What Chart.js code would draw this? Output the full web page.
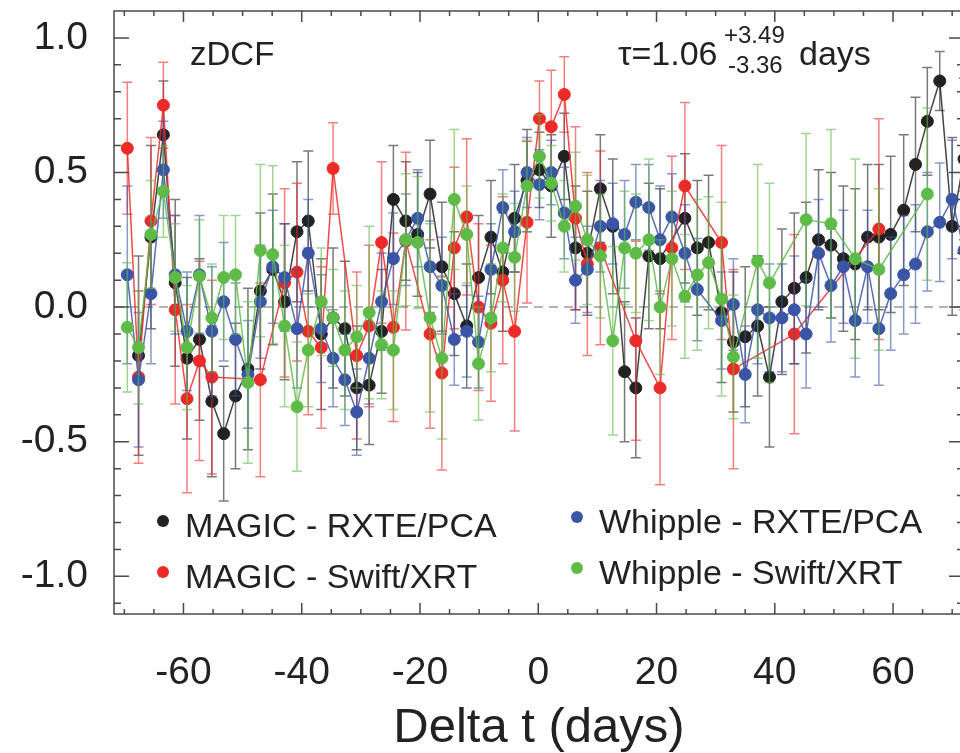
<!DOCTYPE html>
<html>
<head>
<meta charset="utf-8">
<script src="https://cdn.jsdelivr.net/npm/chart.js@4.4.1/dist/chart.umd.min.js"></script>
<style>
  html, body { margin: 0; padding: 0; background: #fff; overflow: hidden; }
  #wrap { width: 975px; height: 753px; }
</style>
</head>
<body>
<div id="wrap"><canvas id="myChart" width="975" height="753"></canvas></div>
<script>
// time lags (days)
var lags = [
  -69.5, -67.6, -65.5, -63.4, -61.4, -59.4, -57.3, -55.2, -53.2, -51.2,
  -49.1, -47.0, -44.9, -42.9, -40.8, -38.9, -36.7, -34.7, -32.7, -30.7,
  -28.6, -26.5, -24.5, -22.4, -20.4, -18.3, -16.3, -14.2, -12.1, -10.1,
  -8.0, -6.0, -4.0, -1.9, 0.2, 2.2, 4.4, 6.3, 8.3, 10.5,
  12.6, 14.6, 16.5, 18.7, 20.6, 22.6, 24.8, 26.9, 28.8, 31.0,
  33.0, 35.0, 37.1, 39.1, 41.2, 43.3, 45.3, 47.4, 49.5, 51.6,
  53.6, 55.7, 57.6, 59.6, 61.8, 63.8, 65.8, 67.9, 70.0, 72.0
];

// MAGIC - RXTE/PCA
var magicRxte = [
  null, -0.18, 0.26, 0.64, 0.09, -0.19, -0.12, -0.35, -0.47, -0.33,
  -0.23, 0.06, 0.14, 0.02, 0.28, 0.32, -0.10, -0.04, -0.08, -0.30,
  -0.29, -0.09, 0.40, 0.32, 0.27, 0.42, 0.15, 0.05, -0.07, 0.11,
  0.26, 0.13, 0.33, 0.47, 0.51, 0.45, 0.56, 0.22, 0.20, 0.44,
  0.30, -0.24, -0.30, 0.19, 0.18, null, 0.33, 0.22, 0.24, -0.02,
  -0.13, -0.11, -0.07, -0.26, 0.02, 0.07, 0.11, 0.25, 0.23, 0.18,
  0.16, 0.26, 0.26, 0.27, 0.36, 0.53, 0.69, 0.84, 0.30, 0.55
];
var magicRxteErr = [
  0, 0.37, 0.34, 0.20, 0.31, 0.30, 0.30, 0.28, 0.25, 0.27,
  0.30, 0.29, 0.28, 0.29, 0.26, 0.26, 0.28, 0.26, 0.25, 0.23,
  0.22, 0.23, 0.20, 0.22, 0.23, 0.20, 0.24, 0.23, 0.23, 0.23,
  0.21, 0.22, 0.20, 0.19, 0.14, 0.19, 0.16, 0.23, 0.23, 0.20,
  0.25, 0.26, 0.26, 0.27, 0.26, 0, 0.24, 0.25, 0.25, 0.26,
  0.26, 0.26, 0.26, 0.26, 0.27, 0.28, 0.28, 0.26, 0.27, 0.27,
  0.28, 0.27, 0.27, 0.29, 0.28, 0.25, 0.20, 0.11, 0.33, 0.30
];

// MAGIC - Swift/XRT
var magicSwift = [
  0.59, -0.26, 0.32, 0.75, -0.01, -0.34, -0.20, -0.26, null, null,
  null, -0.27, null, 0.09, 0.13, -0.09, -0.15, 0.515, null, -0.18,
  -0.07, 0.24, -0.075, 0.245, null, -0.10, -0.245, 0.22, 0.335, 0.0,
  -0.06, 0.10, -0.09, 0.315, 0.70, 0.67, 0.79, 0.33, 0.16, 0.22,
  null, null, -0.125, null, -0.30, 0.22, 0.45, null, null, 0.24,
  -0.23, null, null, null, null, -0.10, null, null, null, null,
  null, null, 0.29, null, null, null, null, null, null, null
];
var magicSwiftErr = [
  0.245, 0.32, 0.31, 0.16, 0.35, 0.35, 0.37, 0.36, 0, 0,
  0, 0.36, 0, 0.35, 0.33, 0.31, 0.30, 0.17, 0, 0.31,
  0.30, 0.30, 0.35, 0.33, 0, 0.35, 0.36, 0.30, 0.29, 0.31,
  0.29, 0.31, 0.37, 0.30, 0.14, 0.21, 0.14, 0.34, 0.34, 0.36,
  0, 0, 0.37, 0, 0.36, 0.34, 0.31, 0, 0, 0.36,
  0.37, 0, 0, 0, 0, 0.37, 0, 0, 0, 0,
  0, 0, 0.41, 0, 0, 0, 0, 0, 0, 0
];

// Whipple - RXTE/PCA
var whippleRxte = [
  0.12, -0.27, 0.05, 0.51, 0.12, -0.09, 0.12, -0.09, 0.02, -0.12,
  -0.25, 0.02, 0.15, 0.11, -0.08, 0.20, -0.08, -0.19, -0.27, -0.39,
  -0.19, 0.02, 0.18, 0.25, 0.33, 0.15, 0.08, -0.12, -0.09, -0.13,
  0.14, 0.37, 0.28, 0.50, 0.455, 0.50, 0.35, 0.10, 0.14, 0.30,
  0.31, 0.27, 0.39, 0.37, 0.25, 0.335, 0.20, 0.065, null, -0.05,
  0.01, -0.25, -0.01, -0.04, -0.04, -0.01, -0.10, 0.20, 0.08, 0.15,
  -0.05, 0.15, -0.08, 0.05, 0.12, 0.16, 0.28, 0.315, 0.40, 0.21
];
var whippleRxteErr = [
  0.33, 0.25, 0.26, 0.18, 0.22, 0.22, 0.22, 0.24, 0.22, 0.21,
  0.20, 0.21, 0.21, 0.20, 0.22, 0.20, 0.20, 0.18, 0.17, 0.16,
  0.17, 0.18, 0.17, 0.17, 0.18, 0.17, 0.18, 0.17, 0.17, 0.17,
  0.17, 0.14, 0.15, 0.13, 0.13, 0.12, 0.17, 0.16, 0.16, 0.17,
  0.15, 0.20, 0.14, 0.16, 0.20, 0.16, 0.18, 0.19, 0, 0.18,
  0.17, 0.18, 0.20, 0.20, 0.20, 0.20, 0.20, 0.20, 0.21, 0.21,
  0.21, 0.21, 0.21, 0.21, 0.22, 0.22, 0.22, 0.22, 0.22, 0.22
];

// Whipple - Swift/XRT
var whippleSwift = [
  -0.075, -0.15, 0.27, 0.43, 0.11, -0.15, 0.115, -0.04, 0.11, 0.12,
  -0.28, 0.21, 0.195, -0.07, -0.37, -0.16, 0.02, -0.04, -0.16, -0.11,
  -0.02, -0.14, -0.16, 0.25, 0.24, -0.04, -0.19, 0.40, 0.27, -0.21,
  -0.04, 0.22, 0.185, 0.45, 0.56, 0.46, 0.30, 0.375, 0.25, 0.19,
  -0.125, 0.22, 0.20, 0.25, 0.0, 0.18, 0.04, 0.12, 0.165, 0.03,
  -0.185, null, 0.17, 0.09, null, null, 0.325, null, 0.31, null,
  0.18, null, 0.14, null, null, null, 0.42, null, null, null
];
var whippleSwiftErr = [
  0.24, 0.21, 0.20, 0.17, 0.20, 0.23, 0.21, 0.20, 0.23, 0.22,
  0.30, 0.32, 0.33, 0.30, 0.24, 0.21, 0.20, 0.18, 0.22, 0.19,
  0.32, 0.20, 0.22, 0.245, 0.245, 0.35, 0.30, 0.26, 0.18, 0.21,
  0.20, 0.20, 0.20, 0.17, 0.155, 0.14, 0.17, 0.20, 0.24, 0.23,
  0.35, 0.21, 0.22, 0.30, 0.25, 0.25, 0.23, 0.28, 0.245, 0.36,
  0.23, 0, 0.36, 0.37, 0, 0, 0.32, 0, 0.35, 0,
  0.37, 0, 0.30, 0, 0, 0, 0.32, 0, 0, 0
];

var xTicks = [-60, -40, -20, 0, 20, 40, 60];
var yTicks = [-1.0, -0.5, 0.0, 0.5, 1.0];

var FONT = '"Liberation Sans", Arial, Helvetica, sans-serif';

function points(vals, errs) {
  var out = [];
  for (var i = 0; i < lags.length; i++) {
    if (vals[i] === null) continue;
    out.push({ x: lags[i], y: vals[i], err: errs[i] });
  }
  return out;
}

function series(label, vals, errs, color, rgb, order) {
  return {
    label: label,
    data: points(vals, errs),
    borderColor: "rgba(" + rgb + ",0.85)",
    borderWidth: 1.5,
    pointBackgroundColor: color,
    pointBorderColor: color,
    pointBorderWidth: 1,
    pointRadius: 6,
    pointHoverRadius: 6,
    errColor: "rgba(" + rgb + ",0.6)",
    tension: 0,
    fill: false,
    order: order
  };
}

var datasets = [
  series("MAGIC - RXTE/PCA", magicRxte, magicRxteErr, "#222222", "34,34,34", 4),
  series("MAGIC - Swift/XRT", magicSwift, magicSwiftErr, "#ec2a27", "236,42,39", 3),
  series("Whipple - RXTE/PCA", whippleRxte, whippleRxteErr, "#3a55a6", "58,85,166", 2),
  series("Whipple - Swift/XRT", whippleSwift, whippleSwiftErr, "#5fbb47", "95,187,71", 1)
];

// error bars, drawn just under each dataset
var errorBars = {
  id: "errorBars",
  beforeDatasetDraw: function (chart, args) {
    var ds = chart.data.datasets[args.index];
    var ctx = chart.ctx, a = chart.chartArea;
    var xs = chart.scales.x, ys = chart.scales.y;
    ctx.save();
    ctx.beginPath();
    ctx.rect(a.left, a.top, a.right - a.left, a.bottom - a.top);
    ctx.clip();
    ctx.strokeStyle = ds.errColor;
    ctx.lineWidth = 1.5;
    ds.data.forEach(function (p) {
      if (!p.err) return;
      var px = xs.getPixelForValue(p.x);
      var top = ys.getPixelForValue(p.y + p.err);
      var bot = ys.getPixelForValue(p.y - p.err);
      ctx.beginPath();
      ctx.moveTo(px, top); ctx.lineTo(px, bot);
      ctx.moveTo(px - 5, top); ctx.lineTo(px + 5, top);
      ctx.moveTo(px - 5, bot); ctx.lineTo(px + 5, bot);
      ctx.stroke();
    });
    ctx.restore();
  }
};

// dashed zero line
var zeroLine = {
  id: "zeroLine",
  beforeDatasetsDraw: function (chart) {
    var ctx = chart.ctx, a = chart.chartArea;
    var py = chart.scales.y.getPixelForValue(0);
    ctx.save();
    ctx.strokeStyle = "#9a9a9a";
    ctx.lineWidth = 1.5;
    ctx.setLineDash([9, 6]);
    ctx.beginPath();
    ctx.moveTo(a.left, py);
    ctx.lineTo(a.right, py);
    ctx.stroke();
    ctx.restore();
  }
};

// box with inward ticks
var frame = {
  id: "frame",
  afterDatasetsDraw: function (chart) {
    var ctx = chart.ctx, a = chart.chartArea;
    var xs = chart.scales.x, ys = chart.scales.y;
    ctx.save();
    ctx.strokeStyle = "#4a4a4a";
    ctx.lineWidth = 1.5;
    ctx.strokeRect(a.left, a.top, a.right - a.left, a.bottom - a.top);
    ctx.beginPath();
    for (var v = -70; v <= 70; v += 5) {
      var px = xs.getPixelForValue(v);
      var len = v % 20 === 0 ? 11 : 5;
      ctx.moveTo(px, a.bottom); ctx.lineTo(px, a.bottom - len);
      ctx.moveTo(px, a.top); ctx.lineTo(px, a.top + len);
    }
    for (var k = -11; k <= 11; k++) {
      var py = ys.getPixelForValue(k / 10);
      if (py < a.top + 2 || py > a.bottom - 2) continue;
      var l2 = k % 5 === 0 ? 15 : 7;
      ctx.moveTo(a.left, py); ctx.lineTo(a.left + l2, py);
      ctx.moveTo(a.right, py); ctx.lineTo(a.right - l2, py);
    }
    ctx.stroke();
    ctx.restore();
  }
};

// legend in two columns and the labels inside the plot
var notes = {
  id: "notes",
  afterDraw: function (chart) {
    var ctx = chart.ctx;
    var items = [
      { ds: 0, x: 163, y: 521, ty: 537 },
      { ds: 1, x: 163, y: 572, ty: 588 },
      { ds: 2, x: 577, y: 517, ty: 533 },
      { ds: 3, x: 577, y: 568, ty: 584 }
    ];
    ctx.save();
    ctx.fillStyle = "#222";
    ctx.textBaseline = "alphabetic";
    ctx.font = "34px " + FONT;
    items.forEach(function (it) {
      var ds = chart.data.datasets[it.ds];
      ctx.fillStyle = ds.pointBackgroundColor;
      ctx.beginPath();
      ctx.arc(it.x, it.y, 6, 0, Math.PI * 2);
      ctx.fill();
      ctx.fillStyle = "#222";
      ctx.fillText(ds.label, it.x + 22, it.ty);
    });
    ctx.font = "33px " + FONT;
    ctx.fillText("zDCF", 190, 65);
    ctx.font = "34px " + FONT;
    ctx.fillText("\u03c4=1.06", 618, 65);
    ctx.fillText("days", 799, 65);
    ctx.font = "24px " + FONT;
    ctx.fillText("+3.49", 724, 43);
    ctx.fillText("-3.36", 728, 73);
    ctx.restore();
  }
};

function noEdgePadding(scale) {
  scale.paddingTop = 0;
  scale.paddingBottom = 0;
  scale.paddingLeft = 0;
  scale.paddingRight = 0;
}

var ctx = document.getElementById("myChart").getContext("2d");
var myChart = new Chart(ctx, {
  type: "line",
  data: { datasets: datasets },
  options: {
    responsive: false,
    animation: false,
    spanGaps: true,
    layout: { padding: { top: 11, right: 11, left: 0, bottom: 0 } },
    plugins: {
      legend: { display: false },
      tooltip: { enabled: false }
    },
    scales: {
      x: {
        type: "linear",
        min: -71.75,
        max: 72,
        afterFit: function (scale) { scale.height = 139; noEdgePadding(scale); },
        afterBuildTicks: function (scale) {
          scale.ticks = xTicks.map(function (v) { return { value: v }; });
        },
        grid: { display: false, drawTicks: false },
        border: { display: false },
        ticks: {
          autoSkip: false,
          maxRotation: 0,
          padding: 36,
          color: "#222",
          font: { family: FONT, size: 39 },
          callback: function (v) { return String(v); }
        },
        title: {
          display: true,
          text: "Delta t (days)",
          color: "#222",
          font: { family: FONT, size: 49, lineHeight: 1 },
          padding: { top: 0, bottom: 0 }
        }
      },
      y: {
        min: -1.14,
        max: 1.10,
        afterFit: function (scale) { scale.width = 114; noEdgePadding(scale); },
        afterBuildTicks: function (scale) {
          scale.ticks = yTicks.map(function (v) { return { value: v }; });
        },
        grid: { display: false, drawTicks: false },
        border: { display: false },
        ticks: {
          padding: 26,
          color: "#222",
          font: { family: FONT, size: 39 },
          callback: function (v) { return Number(v).toFixed(1); }
        }
      }
    }
  },
  plugins: [zeroLine, errorBars, frame, notes]
});
</script>
</body>
</html>
